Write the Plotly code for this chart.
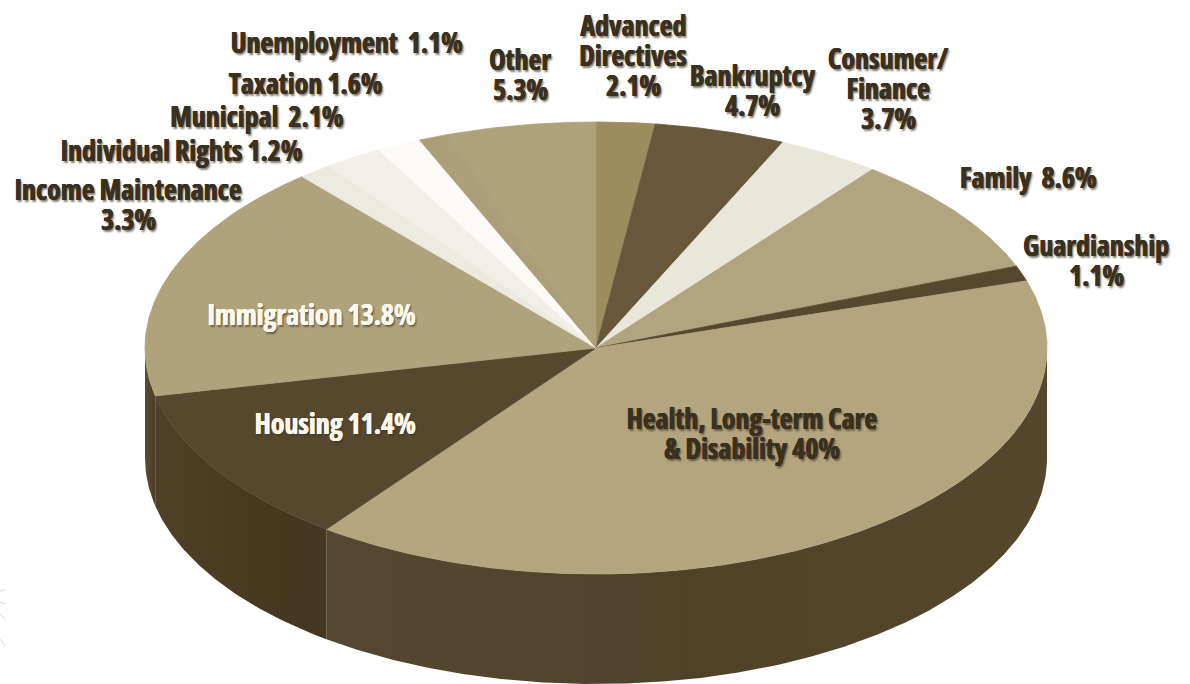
import numpy as np
import plotly.graph_objects as go

CATEGORIES = ["Advanced Directives", "Bankruptcy", "Consumer/Finance", "Family", "Guardianship",
              "Health, Long-term Care & Disability", "Housing", "Immigration", "Income Maintenance",
              "Individual Rights", "Municipal", "Taxation", "Unemployment", "Other"]
VALUES = [2.1, 4.7, 3.7, 8.6, 1.1, 40.0, 11.4, 13.8, 3.3, 1.2, 2.1, 1.6, 1.1, 5.3]

TOP_COLORS = ["#9c8c5e", "#67583b", "#e9e6da", "#b1a57f", "#55482e", "#b3a67f", "#55482e",
              "#afa37c", "#afa37c", "#ebe9e0", "#f1efe8", "#fbfaf6", "#ab9f79", "#ada279"]

LABELS = ["Advanced<br>Directives<br>2.1%", "Bankruptcy<br>4.7%", "Consumer/<br>Finance<br>3.7%",
          "Family\u00a0 8.6%", "Guardianship<br>1.1%", "Health, Long-term Care<br>&amp; Disability 40%",
          "Housing 11.4%", "Immigration 13.8%", "Income Maintenance<br>3.3%", "Individual Rights 1.2%",
          "Municipal\u00a0 2.1%", "Taxation 1.6%", "Unemployment\u00a0 1.1%", "Other<br>5.3%"]
LABEL_X = [633, 752, 888, 1028, 1096, 752, 335, 311, 128, 181, 257, 305, 347, 520]
LABEL_Y = [55, 90, 88, 177, 260, 433, 423, 314, 204, 150, 116, 83, 42, 74]
LINE_GAP = 30
LIGHT_LABELS = {"Housing", "Immigration"}

CX, CY, RX, RY, DEPTH = 596, 348, 451, 226, 110
DARK = "#3a3020"

edges = np.concatenate([[0], np.cumsum(VALUES)]) / np.sum(VALUES) * 2 * np.pi


def arc(a0, a1, dy=0.0):
    n = max(2, int(np.degrees(a1 - a0)) * 2 + 2)
    t = np.linspace(a0, a1, n)
    return CX + RX * np.sin(t), CY + dy - RY * np.cos(t)


fig = go.Figure()

WALL = [("Health wall", 5, {"type": "horizontal",
                            "colorscale": [[0, "#554830"], [0.5, "#4e4229"], [1, "#54472d"]]}),
        ("Housing wall", 6, {"type": "horizontal",
                             "colorscale": [[0, "#4e4128"], [0.6, "#45391f"], [1, "#43371f"]]}),
        ("Immigration wall", 7, {"type": "horizontal",
                                 "colorscale": [[0, "#5a4c31"], [1, "#4a3e26"]]})]
for name, i, grad in WALL:
    a0 = max(edges[i], np.pi / 2)
    a1 = min(edges[i + 1], 3 * np.pi / 2)
    x0, y0 = arc(a0, a1)
    x1, y1 = arc(a0, a1, DEPTH)
    fig.add_trace(go.Scatter(x=np.r_[x0, x1[::-1], x0[0]], y=np.r_[y0, y1[::-1], y0[0]],
                             mode="lines", line=dict(width=0), fill="toself",
                             fillgradient=grad, name=name, hoverinfo="skip"))

for i, (cat, col) in enumerate(zip(CATEGORIES, TOP_COLORS)):
    x, y = arc(edges[i], edges[i + 1])
    fig.add_trace(go.Scatter(x=np.r_[CX, x, CX], y=np.r_[CY, y, CY], mode="lines",
                             line=dict(width=0.8, color=col), fill="toself", fillcolor=col,
                             name=cat, hoverinfo="name"))

for cat, txt, lx, ly in zip(CATEGORIES, LABELS, LABEL_X, LABEL_Y):
    col = "#fbf8ee" if cat in LIGHT_LABELS else DARK
    shadow = (f"0.4px 0 0 {col}, -0.4px 0 0 {col}, "
              "1.5px 2px 2px rgba(60,50,30,0.65)")
    lines = txt.split("<br>")
    for j, part in enumerate(lines):
        fig.add_annotation(x=lx, y=ly + (j - (len(lines) - 1) / 2) * LINE_GAP, text=part,
                           showarrow=False,
                           font=dict(family="Open Sans", size=28, weight="bold",
                                     color=col, shadow=shadow))

RAYS = [(0, 591, 5, 590), (0, 602, 5, 604), (0, 614, 5, 619), (0, 639, 5, 646)]
shapes = [dict(type="line", xref="x", yref="y", x0=a, y0=b, x1=c, y1=d,
               line=dict(color="#e3d9c6", width=1)) for a, b, c, d in RAYS]

fig.update_layout(width=1190, height=684, margin=dict(l=0, r=0, t=0, b=0), showlegend=False,
                  paper_bgcolor="white", plot_bgcolor="white", shapes=shapes,
                  xaxis=dict(range=[0, 1190], visible=False),
                  yaxis=dict(range=[684, 0], visible=False))
CONDENSE = ("document.body.style.margin='0';"
            "document.querySelectorAll('.annotation-text').forEach(function(t){"
            "t.style.fontStretch='75%';});")
fig.write_html("out.html", post_script=CONDENSE, config={"displayModeBar": False})
